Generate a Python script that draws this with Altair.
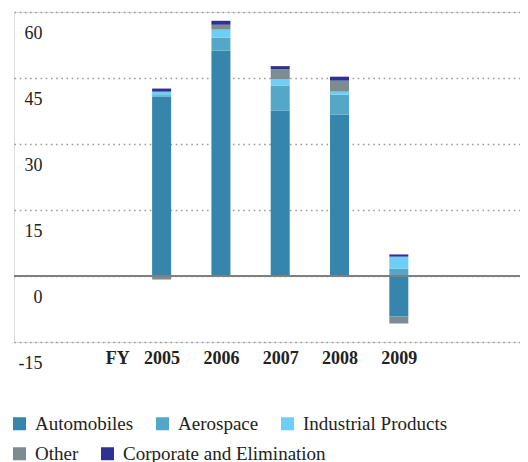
import altair as alt
import pandas as pd

years = [2005, 2006, 2007, 2008, 2009]
segments = ["Automobiles", "Aerospace", "Industrial Products", "Other", "Corporate and Elimination"]
colors = ["#3585ad", "#55a7c7", "#6dcff6", "#7b8c92", "#2e3192"]

automobiles = [40.8, 51.2, 37.6, 36.7, -9.2]
aerospace = [0.3, 3.0, 5.7, 4.5, 1.7]
industrial = [0.8, 1.8, 1.4, 0.7, 2.7]
other = [-0.8, 1.1, 2.3, 2.5, -1.6]
corporate = [0.7, 0.9, 0.7, 0.9, 0.5]

y_ticks = [-15, 0, 15, 30, 45, 60]
fy_pos = 2004.25

series = [automobiles, aerospace, industrial, other, corporate]
rows = []
for si, (name, vals) in enumerate(zip(segments, series)):
    for y, v in zip(years, vals):
        rows.append({"year": y, "segment": name, "value": v, "order": si})
df = pd.DataFrame(rows)

font = "Liberation Serif"

x_scale = alt.Scale(domain=[2002.595, 2010.959], nice=False, zero=False)
y_scale = alt.Scale(domain=[-15, 60], nice=False)


def legend_props(y):
    return dict(title=None, orient="none", legendX=-4, legendY=y, padding=0,
                direction="horizontal", symbolType="square", symbolSize=169,
                symbolStrokeWidth=0, symbolOpacity=1,
                labelFont=font, labelFontSize=19, labelColor="#222222",
                labelOffset=6, columnPadding=19, labelLimit=400)


bars = alt.Chart(df).mark_bar(size=19).encode(
    x=alt.X("year:Q", scale=x_scale,
            axis=alt.Axis(values=[fy_pos] + years, title=None, grid=False, domain=False, ticks=False,
                          labelExpr="datum.value < 2005 ? 'FY' : format(datum.value, 'd')",
                          labelFont=font, labelFontSize=18, labelFontWeight="bold",
                          labelColor="#222222", labelPadding=7, labelFlush=False, labelOverlap=False)),
    y=alt.Y("sum(value):Q", scale=y_scale, stack="zero",
            axis=alt.Axis(values=y_ticks, title=None, domain=False, ticks=False,
                          grid=True, gridDash=[1.6, 3.6], gridColor="#9a9a9a", gridWidth=1.3,
                          labelExpr="replace(datum.label, '\u2212', '-')",
                          labelAlign="right", labelPadding=-28, labelOffset=21,
                          labelFont=font, labelFontSize=18, labelColor="#222222",
                          labelFlush=False, labelOverlap=False)),
    color=alt.Color("segment:N", scale=alt.Scale(domain=segments, range=colors), legend=None),
    order=alt.Order("order:Q", sort="ascending"),
)

row1 = segments[:3]
row2 = segments[3:]

legend1 = alt.Chart(df).transform_filter(
    alt.FieldOneOfPredicate(field="segment", oneOf=row1)
).mark_bar(size=19, opacity=0).encode(
    x=alt.X("year:Q", scale=x_scale),
    y=alt.Y("value:Q", scale=y_scale, stack=None),
    color=alt.Color("segment:N", scale=alt.Scale(domain=row1, range=colors[:3]),
                    legend=alt.Legend(**legend_props(402))),
)

legend2 = alt.Chart(df).transform_filter(
    alt.FieldOneOfPredicate(field="segment", oneOf=row2)
).mark_bar(size=19, opacity=0).encode(
    x=alt.X("year:Q", scale=x_scale),
    y=alt.Y("value:Q", scale=y_scale, stack=None),
    fill=alt.Fill("segment:N", scale=alt.Scale(domain=row2, range=colors[3:]),
                  legend=alt.Legend(**legend_props(432))),
)

zero = alt.Chart(pd.DataFrame({"z": [0]})).mark_rule(color="#7f7f7f", strokeWidth=2).encode(
    y=alt.Y("z:Q", scale=y_scale)
)

chart = alt.layer(bars, legend1, legend2, zero).resolve_scale(
    color="independent", fill="independent"
).properties(
    width=506, height=330,
    autosize=alt.AutoSizeParams(type="none"),
    padding={"left": 6, "top": 4, "right": 0, "bottom": 120},
).configure_view(stroke=None).configure(background="white", font=font)

chart.save("out.html", embed_options={"renderer": "svg", "actions": False})
